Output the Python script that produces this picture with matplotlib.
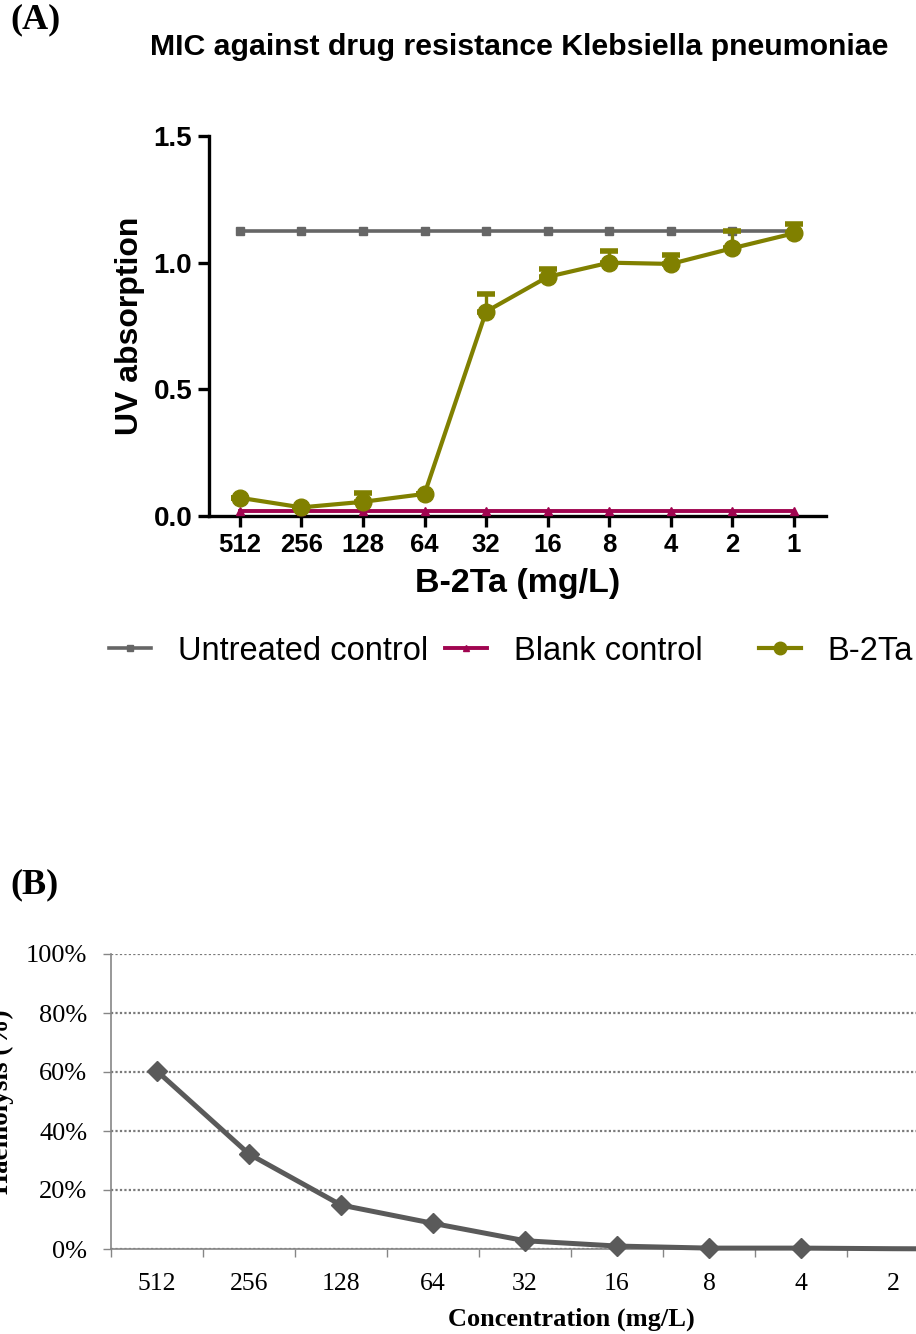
import matplotlib
matplotlib.use("Agg")
import matplotlib.pyplot as plt
from matplotlib.lines import Line2D
from matplotlib.ticker import FixedLocator, PercentFormatter

W, H, DPI = 916, 1334, 100

# ---------------- data ----------------
conc_a = ["512", "256", "128", "64", "32", "16", "8", "4", "2", "1"]
untreated = [1.125] * 10
blank = [0.018] * 10
b2ta = [0.072, 0.034, 0.056, 0.087, 0.807, 0.944, 1.000, 0.995, 1.057, 1.116]
b2ta_err = [0.0, 0.0, 0.035, 0.0, 0.070, 0.030, 0.046, 0.035, 0.068, 0.037]

conc_b = ["512", "256", "128", "64", "32", "16", "8", "4", "2", "1"]
haemolysis = [0.603, 0.322, 0.149, 0.087, 0.028, 0.010, 0.003, 0.003, 0.001, 0.0]

GRAY = "#666666"
CRIMSON = "#A00550"
OLIVE = "#808000"

fig = plt.figure(figsize=(W / DPI, H / DPI), dpi=DPI)

def fx(px):
    return px / W

def fy(py):
    return 1 - py / H

SANS = ["Liberation Sans", "DejaVu Sans"]
SERIF = ["Liberation Serif", "DejaVu Serif"]

# ---------------- panel A ----------------
axA = fig.add_axes([fx(209), fy(516), fx(826 - 209), (516 - 136) / H])
x = list(range(len(conc_a)))
axA.plot(x, untreated, color=GRAY, lw=2.6, marker="s", ms=5.5, clip_on=False, zorder=3)
axA.plot(x, blank, color=CRIMSON, lw=2.8, marker="^", ms=5.5, clip_on=False, zorder=3)
axA.errorbar(x, b2ta, yerr=[[0] * len(b2ta_err), b2ta_err], color=OLIVE, lw=3,
             marker="o", ms=12, capsize=6.2, capthick=4, elinewidth=2.4,
             clip_on=False, zorder=4)
axA.set_xlim(-0.5, 9.52)
axA.set_ylim(0, 1.5)
axA.set_xticks(x)
axA.set_xticklabels(conc_a)
axA.set_yticks([0, 0.5, 1.0, 1.5])
axA.set_yticklabels(["0.0", "0.5", "1.0", "1.5"])
for s in ["top", "right"]:
    axA.spines[s].set_visible(False)
for s in ["left", "bottom"]:
    axA.spines[s].set_linewidth(2.4)
axA.tick_params(axis="both", width=2.4, length=8, pad=4)
axA.tick_params(axis="x", labelsize=18.5)
axA.tick_params(axis="y", labelsize=20)
for lab in axA.get_xticklabels() + axA.get_yticklabels():
    lab.set_fontweight("bold")
    lab.set_family(SANS)
axA.set_xlabel("B-2Ta (mg/L)", fontsize=24.5, fontweight="bold", family=SANS, labelpad=8)
axA.set_ylabel("UV absorption", fontsize=23, fontweight="bold", family=SANS, labelpad=6)

fig.text(fx(519), fy(47), "MIC against drug resistance Klebsiella pneumoniae",
         ha="center", va="center", fontsize=21.8, fontweight="bold", family=SANS)
fig.text(fx(10), fy(20), "(A)", ha="left", va="center", fontsize=26,
         fontweight="bold", family=SERIF)

# legend (three separate entries)
leg_items = [
    (Line2D([], [], color=GRAY, lw=2.6, marker="s", ms=4), "Untreated control", 107),
    (Line2D([], [], color=CRIMSON, lw=2.8, marker="^", ms=4), "Blank control", 443),
    (Line2D([], [], color=OLIVE, lw=3, marker="o", ms=9), "B-2Ta", 757),
]
for h, lab, xpx in leg_items:
    fig.legend([h], [lab], loc="center left", bbox_to_anchor=(fx(xpx + 2), fy(651)),
               frameon=False, handlelength=1.3, handletextpad=0.8,
               prop={"family": SANS, "size": 23.5}, borderpad=0, borderaxespad=0)

# ---------------- panel B ----------------
axB = fig.add_axes([fx(111), fy(1249), fx(920), (1249 - 954) / H])
xb = list(range(len(conc_b)))
axB.plot(xb, haemolysis, color="#5a5a5a", lw=3.6, marker="D", ms=10.5,
         markevery=list(range(8)), zorder=3, clip_on=False)
axB.set_xlim(-0.5, len(conc_b) - 0.5)
axB.set_ylim(0, 1.0)
axB.set_yticks([0, 0.2, 0.4, 0.6, 0.8, 1.0])
axB.yaxis.set_major_formatter(PercentFormatter(1.0, decimals=0))
axB.grid(axis="y", color="#7a7a7a", linestyle=(0, (1, 1)), linewidth=1.6)
axB.set_axisbelow(True)
axB.set_xticks(xb)
axB.set_xticklabels(conc_b)
axB.xaxis.set_minor_locator(FixedLocator([i + 0.5 for i in range(-1, len(conc_b))]))
axB.tick_params(axis="x", which="major", length=0, pad=17, labelsize=18.5)
axB.tick_params(axis="x", which="minor", length=6, width=1, color="#868686")
axB.tick_params(axis="y", length=6, width=1, color="#868686", pad=11, labelsize=19)
for lab in axB.get_xticklabels() + axB.get_yticklabels():
    lab.set_family(SERIF)
for s in ["top", "right"]:
    axB.spines[s].set_visible(False)
for s in ["left", "bottom"]:
    axB.spines[s].set_color("#868686")
    axB.spines[s].set_linewidth(1.2)
axB.set_xlabel("Concentration (mg/L)", fontsize=19, fontweight="bold", family=SERIF,
               labelpad=9)
axB.set_ylabel("Haemolysis (%)", fontsize=19.5, fontweight="bold", family=SERIF,
               labelpad=9)
fig.text(fx(10), fy(885), "(B)", ha="left", va="center", fontsize=26,
         fontweight="bold", family=SERIF)

fig.savefig("out.png", dpi=DPI)
